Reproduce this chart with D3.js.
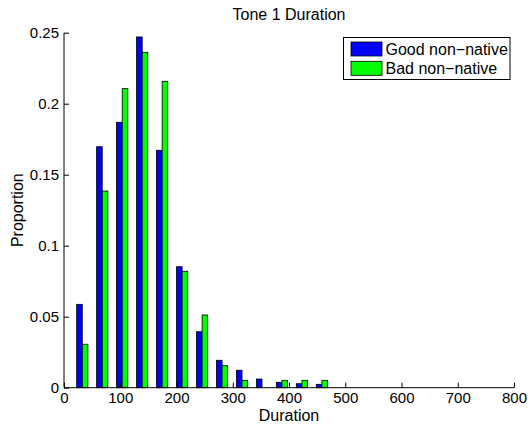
<!DOCTYPE html>
<html>
<head>
<meta charset="utf-8">
<script src="https://cdn.jsdelivr.net/npm/d3@7"></script>
<style>
  body { margin: 0; background: #fff; }
  text { font-family: "Liberation Sans", Arial, sans-serif; fill: #000; }
</style>
</head>
<body>
<svg id="chart" width="528" height="425"></svg>
<script>
// bin centres (ms) and proportions
var binCenters = [32.5, 68, 103.5, 139, 174.5, 210, 245.5, 281, 316.5, 352,
                  387.5, 423, 458.5, 494, 529.5, 565, 600.5, 636, 671.5, 707];
var goodValues = [0.0587, 0.1697, 0.1869, 0.247, 0.1672, 0.0852, 0.0394, 0.0193, 0.0123, 0.0061,
                  0.0038, 0.0028, 0.0024, 0, 0, 0, 0, 0, 0, 0];
var badValues  = [0.0306, 0.1385, 0.2106, 0.2362, 0.2158, 0.082, 0.0512, 0.0155, 0.0052, 0,
                  0.0052, 0.0052, 0.0052, 0, 0, 0, 0, 0, 0, 0];
var seriesNames = ["Good non\u2212native", "Bad non\u2212native"];
var seriesColors = ["#0000ff", "#00ff00"];
var xTicks = [0, 100, 200, 300, 400, 500, 600, 700, 800];
var yTicks = [0, 0.05, 0.1, 0.15, 0.2, 0.25];

var svg = d3.select("#chart");
// note: "top" is taken by window.top, so keep these names distinct
var plotLeft = 64, plotRight = 514, plotTop = 32.7, plotBottom = 387.7;

var x = d3.scaleLinear().domain([0, 800]).range([plotLeft, plotRight]);
var y = d3.scaleLinear().domain([0, 0.25]).range([plotBottom, plotTop]);

var barW = 10; // data units per bar, two bars per bin
var series = [goodValues, badValues];

series.forEach(function(vals, s) {
    svg.append("g").selectAll("rect")
        .data(vals)
        .enter().append("rect")
        .attr("x", function(d, i) { return x(binCenters[i] - barW + s * barW); })
        .attr("width", x(barW) - x(0))
        .attr("y", function(d) { return y(d); })
        .attr("height", function(d) { return y(0) - y(d); })
        .attr("fill", seriesColors[s])
        .attr("stroke", "#000")
        .attr("stroke-width", 0.8);
});

// axes, ticks point inward like matlab
var xAxis = d3.axisBottom(x).tickValues(xTicks).tickSize(-5).tickPadding(5)
    .tickFormat(d3.format("d"));
var gx = svg.append("g").attr("transform", "translate(0," + plotBottom + ")").call(xAxis);
gx.select(".domain").attr("d", "M" + plotLeft + ",0H" + plotRight);

var yAxis = d3.axisLeft(y).tickValues(yTicks).tickSize(-5).tickPadding(5)
    .tickFormat(function(d) { return d === 0 ? "0" : String(+d.toFixed(2)); });
var gy = svg.append("g").attr("transform", "translate(" + plotLeft + ",0)").call(yAxis);
gy.select(".domain").attr("d", "M0," + plotTop + "V" + plotBottom);

svg.selectAll(".tick text").style("font-size", "15px")
    .style("font-family", "'Liberation Sans', Arial, sans-serif");
svg.selectAll(".domain, .tick line").attr("stroke", "#000");

// title and axis labels
svg.append("text").attr("x", (plotLeft + plotRight) / 2).attr("y", 20)
    .attr("text-anchor", "middle").style("font-size", "16px").text("Tone 1 Duration");
svg.append("text").attr("x", (plotLeft + plotRight) / 2).attr("y", 421)
    .attr("text-anchor", "middle").style("font-size", "16px").text("Duration");
svg.append("text").attr("transform", "translate(22.5," + (plotTop + plotBottom) / 2 + ") rotate(-90)")
    .attr("text-anchor", "middle").style("font-size", "16px").text("Proportion");

// legend
var lg = svg.append("g").attr("transform", "translate(343.5,37.5)");
lg.append("rect").attr("width", 166.5).attr("height", 42)
    .attr("fill", "#fff").attr("stroke", "#000").attr("stroke-width", 1);
seriesNames.forEach(function(name, i) {
    lg.append("rect").attr("x", 7.5).attr("y", 4.5 + i * 19.3).attr("width", 31).attr("height", 14)
        .attr("fill", seriesColors[i]).attr("stroke", "#000").attr("stroke-width", 0.8);
    lg.append("text").attr("x", 42).attr("y", 17.5 + i * 19.3)
        .style("font-size", "16px").text(name);
});
</script>
</body>
</html>
